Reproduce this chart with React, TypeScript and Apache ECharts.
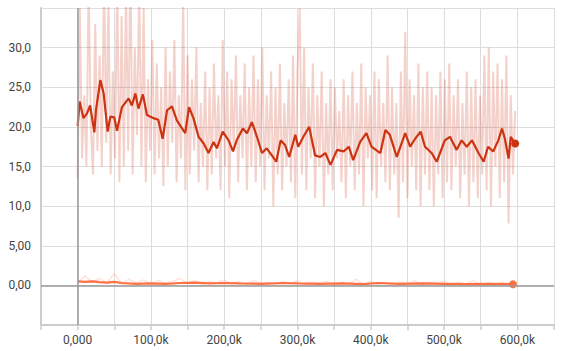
import React, { useEffect, useRef } from "react";
import * as echarts from "echarts";

// Run 1 (dark red) smoothed trace: steps and values
const run1SmoothSteps = [0, 2700, 8000, 12800, 17000, 22800, 25000, 31000, 35500, 41000, 44600, 50000, 53700, 60500, 69600, 74000, 78700, 83000, 89000, 94600, 103600, 110000, 116000, 122000, 128700, 135500, 146800, 152000, 158000, 165000, 172000, 178600, 185500, 190000, 198000, 206000, 212000, 217000, 225500, 231000, 237800, 244700, 251500, 258000, 265000, 271000, 277000, 283000, 288700, 297000, 301000, 308000, 316000, 324000, 331000, 338000, 345000, 354000, 363000, 370000, 376000, 385500, 394000, 401000, 413000, 420000, 426000, 435500, 447000, 453700, 460500, 468000, 474000, 483000, 490000, 501000, 508000, 517000, 524000, 531000, 538000, 547000, 554000, 560000, 567000, 574000, 579000, 583000, 588000, 591000, 597000];
const run1SmoothValues = [20.1, 23.2, 21.1, 21.7, 22.7, 19.3, 22.1, 25.9, 24.2, 19.4, 21.3, 21.2, 19.5, 22.5, 23.6, 22.7, 24.2, 22.3, 24.1, 21.5, 21.1, 20.9, 18.5, 22.1, 22.6, 20.8, 19.2, 22.5, 21.1, 18.75, 17.9, 16.7, 18.1, 17.3, 19.4, 18.3, 16.9, 18.3, 19.8, 19.2, 20.6, 18.75, 16.7, 17.3, 16.4, 15.6, 18.3, 17.7, 16.2, 19.0, 17.5, 18.75, 20.0, 16.4, 16.2, 16.7, 15.2, 17.1, 16.9, 17.5, 15.8, 18.1, 19.2, 17.5, 16.7, 19.6, 19.0, 16.2, 19.2, 17.5, 18.5, 19.4, 17.5, 16.7, 15.6, 18.3, 18.75, 17.1, 18.3, 17.5, 18.3, 16.7, 15.6, 17.5, 16.9, 18.3, 19.8, 18.5, 16.0, 18.75, 17.9];

// Run 1 raw values, one every 3k steps from 0
const run1RawStep = 3000;
const run1RawValues = [
  13.5, 35, 16, 24, 15, 38, 20, 14, 33, 17, 29, 15, 40, 18, 36, 14, 27, 16, 39, 13,
  34, 15, 37, 17, 41, 14, 30, 19, 38, 15, 35, 13, 26, 17, 31, 14, 28, 16, 25, 12.5,
  30, 15, 27, 18, 31, 13, 24, 16, 36, 12, 29, 14, 26, 17, 30, 13, 23, 15, 27, 12,
  25, 14, 28, 16, 24, 12, 31, 15, 27, 11, 26, 17, 29, 13, 24, 16, 28, 12, 25, 15,
  29, 13, 26, 15, 30, 12, 24, 16, 27, 10, 25, 14, 28, 12, 23, 15, 26, 13, 29, 11,
  27, 35, 14, 30, 12, 25, 16, 28, 11, 24, 15, 27, 10, 23, 14, 26, 12, 25, 16, 22,
  13, 26, 11, 24, 15, 27, 12, 23, 14, 28, 10, 25, 16, 24, 12, 27, 11, 26, 15, 23,
  13, 29, 12, 25, 14, 23, 8.5, 27, 13, 32, 11, 26, 15, 24, 12, 28, 10, 25, 14, 27,
  12, 25, 10, 24, 14, 27, 11, 26, 13, 28, 12, 24, 15, 26, 11, 23, 14, 27, 10, 25,
  13, 26, 11, 24, 14, 29, 12, 30, 10, 27, 15, 28, 11, 26, 13, 29, 7.8, 24, 14, 22,
];

// Run 2 (orange) smoothed trace
const run2SmoothSteps = [0, 10000, 20000, 30000, 40000, 50000, 60000, 80000, 100000, 120000, 140000, 160000, 180000, 200000, 220000, 250000, 280000, 300000, 330000, 360000, 390000, 410000, 440000, 470000, 500000, 530000, 560000, 594000];
const run2SmoothValues = [0.5, 0.45, 0.5, 0.4, 0.35, 0.45, 0.3, 0.2, 0.25, 0.2, 0.3, 0.35, 0.25, 0.3, 0.25, 0.2, 0.3, 0.25, 0.2, 0.25, 0.15, 0.3, 0.2, 0.25, 0.2, 0.15, 0.2, 0.15];

// Run 2 raw values, one every 10k steps from 0
const run2RawStep = 10000;
const run2RawValues = [
  0.3, 1.2, 0.4, 0.9, 0.3, 1.5, 0.2, 0.8, 0.3, 0.7, 0.1, 0.6, 0.3, 0.5, 0.9, 0.2, 0.6, 0.1, 0.5, 0.3,
  0.7, 0.2, 0.5, 0.1, 0.6, 0.3, 0.4, 0.1, 0.5, 0.2, 0.6, 0.1, 0.4, 0.3, 0.5, 0.0, 0.4, 0.2, 0.8, 0.1,
  0.5, 0.2, 0.4, 0.0, 0.5, 0.2, 0.6, 0.1, 0.4, 0.3, 0.5, 0.1, 0.4, 0.2, 0.6, 0.1, 0.3, 0.2, 0.4, 0.1,
];

const RUN1_COLOR = "#cc3311";
const RUN2_COLOR = "#ff7043";

function zip(steps: number[], values: number[]) {
  return steps.map((s, i) => [s, values[i]]);
}
function withStep(step: number, values: number[]) {
  return values.map((v, i) => [i * step, v]);
}

function xLabel(v: number) {
  if (v < 0 || v % 100000 !== 0) return "";
  if (v === 0) return "0,000";
  return (v / 1000).toFixed(1).replace(".", ",") + "k";
}
function yLabel(v: number) {
  if (v < 0 || v > 30) return "";
  if (v < 10) return v.toFixed(2).replace(".", ",");
  return v.toFixed(1).replace(".", ",");
}

export default function App() {
  const ref = useRef<HTMLDivElement>(null);
  useEffect(() => {
    if (!ref.current) return;
    const chart = echarts.init(ref.current, undefined, { renderer: "svg" });
    const run1Smooth = zip(run1SmoothSteps, run1SmoothValues);
    const run2Smooth = zip(run2SmoothSteps, run2SmoothValues);
    chart.setOption({
      animation: false,
      grid: { left: 41, right: 7, top: 8, bottom: 26, containLabel: false },
      xAxis: {
        type: "value",
        min: -50000,
        max: 650000,
        interval: 50000,
        axisLine: { show: true, onZero: false, lineStyle: { color: "#cccccc", width: 2 } },
        axisTick: { show: true, length: 5, lineStyle: { color: "#cccccc", width: 1.5 } },
        axisLabel: {
          formatter: xLabel,
          color: "#444",
          fontFamily: "Roboto",
          fontSize: 12,
          margin: 9,
          showMinLabel: true,
          showMaxLabel: true,
        },
        splitLine: { show: true, lineStyle: { color: "#dddddd", width: 1 } },
      },
      yAxis: {
        type: "value",
        min: -5,
        max: 35,
        interval: 5,
        axisLine: { show: true, onZero: false, lineStyle: { color: "#cccccc", width: 2 } },
        axisTick: { show: false },
        axisLabel: {
          formatter: yLabel,
          color: "#444",
          fontFamily: "Roboto",
          fontSize: 12,
          margin: 10,
        },
        splitLine: { show: true, lineStyle: { color: "#dddddd", width: 1 } },
      },
      series: [
        {
          type: "line",
          data: withStep(run1RawStep, run1RawValues),
          showSymbol: false,
          lineStyle: { color: RUN1_COLOR, width: 2, opacity: 0.22 },
          silent: true,
          z: 1,
          markLine: {
            silent: true,
            symbol: "none",
            label: { show: false },
            lineStyle: { color: "#999999", width: 1.5, type: "solid" },
            data: [{ xAxis: 0 }, { yAxis: 0 }],
          },
        },
        {
          type: "line",
          data: withStep(run2RawStep, run2RawValues),
          showSymbol: false,
          lineStyle: { color: RUN2_COLOR, width: 1.5, opacity: 0.2 },
          silent: true,
          z: 1,
        },
        {
          type: "line",
          data: run1Smooth,
          showSymbol: false,
          lineStyle: { color: RUN1_COLOR, width: 2.2 },
          silent: true,
          z: 3,
        },
        {
          type: "line",
          data: run2Smooth,
          showSymbol: false,
          lineStyle: { color: RUN2_COLOR, width: 2.2 },
          silent: true,
          z: 3,
        },
        {
          type: "scatter",
          data: [run1Smooth[run1Smooth.length - 1]],
          symbolSize: 8,
          itemStyle: { color: RUN1_COLOR, opacity: 1 },
          silent: true,
          z: 4,
        },
        {
          type: "scatter",
          data: [run2Smooth[run2Smooth.length - 1]],
          symbolSize: 8,
          itemStyle: { color: RUN2_COLOR, opacity: 1 },
          silent: true,
          z: 4,
        },
      ],
    });
    return () => chart.dispose();
  }, []);
  return (
    <div
      ref={ref}
      style={{ position: "fixed", left: 0, top: 0, width: 561, height: 351, background: "#fff" }}
    />
  );
}
